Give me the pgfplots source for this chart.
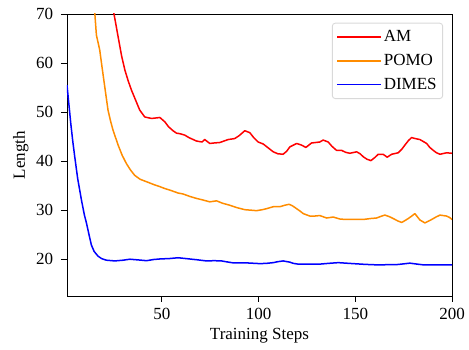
\documentclass[border=0pt]{standalone}
\usepackage{pgfplots}
\pgfplotsset{compat=1.18}
\usepackage{fontspec}
\setmainfont{Liberation Serif}
\definecolor{amred}{RGB}{255,0,0}
\definecolor{pomoorange}{RGB}{255,140,0}
\definecolor{dimesblue}{RGB}{0,0,255}
\begin{document}
\fontsize{17}{20}\selectfont
\begin{tikzpicture}
\begin{axis}[
  scale only axis,
  width=385pt, height=282pt,
  xmin=1, xmax=200, ymin=12.5, ymax=70,
  xtick={50,100,150,200},
  ytick={20,30,40,50,60,70},
  tick align=outside,
  major tick length=6pt,
  xtick pos=bottom, ytick pos=left,
  every tick/.style={black, line width=0.9pt},
  axis line style={line width=0.9pt},
  /pgf/number format/assume math mode=true,
  ticklabel style={font=\fontsize{17}{20}\selectfont},
  yticklabel style={xshift=-2pt},
  label style={font=\fontsize{17}{20}\selectfont},
  xlabel={Training Steps}, ylabel={Length},
  xlabel style={yshift=3pt},
  ylabel style={yshift=-4pt},
  legend style={at={(0.977,0.969)}, anchor=north east, draw=black!15, line width=0.9pt,
    rounded corners=3pt, font=\fontsize{17}{20}\selectfont, row sep=6pt,
    inner xsep=4pt, inner ysep=5pt},
  legend cell align=left,
  legend image code/.code={\draw[#1] (0pt,0pt) -- (36pt,0pt); \path (0pt,0pt) -- (44pt,0pt);},
]
\addplot[draw=amred, line width=1.5pt, line join=round] coordinates {
(23,76) (25.3,70) (27.4,65.4) (29.2,61.5) (30.9,58.6) (32.6,56.4) (34.3,54.5) (36.5,52.4) (38.6,50.4) (41.2,49.0)
(44.7,48.7) (47,48.8) (49,48.9) (51.6,48.0) (53.5,47.0) (55.8,46.2) (57.6,45.7) (59.3,45.6)
(61.9,45.3) (64,44.8) (67.9,44.1) (70.8,43.9) (72.2,44.4) (74.8,43.6) (77,43.7) (80,43.8) (84.3,44.4)
(87.7,44.6) (90,45.2) (92.9,46.2) (95.5,45.8) (97.5,44.8) (99.8,43.9) (102.4,43.5) (105,42.7) (107.6,41.9)
(110,41.5) (112.7,41.4) (114.5,42) (116.2,42.9) (119.7,43.6) (122,43.3) (124.5,42.8) (127.4,43.7)
(131.7,43.9) (133.4,44.3) (136,43.9) (138,43) (140.3,42.2) (142.9,42.2) (145,41.8) (147.2,41.6)
(150.7,41.9) (152.5,41.5) (154.1,40.9) (156,40.4) (158.1,40.1) (160,40.7) (161.9,41.4) (164.4,41.4)
(166.5,40.8) (168.8,41.4) (172.2,41.7) (174,42.4) (175.7,43.3) (177.5,44.2) (179.1,44.8) (181,44.6)
(183.4,44.4) (186.9,43.6) (188.5,42.8) (190.3,42.2) (192,41.7) (193.8,41.4) (197.2,41.7) (200,41.6)
};
\addlegendentry{AM}
\addplot[draw=pomoorange, line width=1.5pt, line join=round] coordinates {
(14.5,76) (15.4,70) (16.2,65.7) (17.9,62.7) (19.1,59.2) (20.5,55.2) (22.2,50.4) (23.5,48.2) (24.8,46.3)
(27.4,43.3) (29.5,41.2) (31.7,39.5) (33.8,38.2) (36,37.1) (38.8,36.3) (42.1,35.8) (46,35.2)
(49,34.8) (51.6,34.4) (54.1,34.1) (58.4,33.5) (61,33.3) (64.5,32.8) (67.9,32.4) (71,32.1) (74.8,31.7) (78.3,31.9)
(81.5,31.4) (85.2,31.0) (89,30.5) (92.9,30.1) (96,30.0) (99,29.9) (102,30.1) (104.1,30.3) (107.6,30.7)
(111,30.7) (113.5,31.0) (115.8,31.2) (117.5,30.9) (119.7,30.3) (121.5,29.8) (123.1,29.3) (126.5,28.8)
(129,28.8) (131.7,28.9) (135.2,28.4) (138.6,28.6) (142,28.2) (145,28.1) (148.9,28.1) (154.1,28.1)
(158,28.3) (161,28.4) (163,28.7) (165.3,29.0) (167.5,28.7) (169.6,28.3) (172,27.8) (174,27.5)
(175.8,27.9) (177.4,28.3) (179.2,28.8) (180.8,29.3) (182.2,28.6) (183.4,28.0) (186,27.4) (189.5,28.1)
(191.7,28.6) (193.8,29.0) (197.2,28.8) (198.8,28.5) (200,28.1)
};
\addlegendentry{POMO}
\addplot[draw=dimesblue, line width=1.5pt, line join=round] coordinates {
(1,55.5) (2,51.5) (3,47.5) (4,44) (5,40.9) (6.5,36.5) (8.5,32) (10,29) (11.1,27.3) (12.5,24.8)
(13.6,22.9) (15,21.6) (17.1,20.6) (19,20.1) (21.4,19.8) (25.7,19.65) (30,19.8) (33.5,20.0) (38,19.85)
(42.1,19.7) (46,19.95) (49,20.05) (54.1,20.14) (58.4,20.3) (62,20.15) (67.9,19.9) (73.1,19.65)
(77,19.7) (80.9,19.65) (83,19.5) (86.9,19.25) (93.8,19.25) (100.7,19.1) (104,19.15) (107.6,19.3)
(110,19.5) (112.7,19.65) (116.2,19.4) (118,19.15) (120.5,19.0) (126.5,19.0) (131.7,19.0) (136,19.15)
(141.2,19.3) (148.9,19.1) (155,18.95) (161,18.85) (171.4,18.9) (175,19.05) (178.2,19.2) (181,19.05)
(185.1,18.85) (200,18.85)
};
\addlegendentry{DIMES}
\coordinate (sw) at (rel axis cs:0,0);
\end{axis}
\pgfresetboundingbox
\path (sw) ++(-67pt,-54pt) rectangle ++(469pt,350pt);
\end{tikzpicture}
\end{document}
